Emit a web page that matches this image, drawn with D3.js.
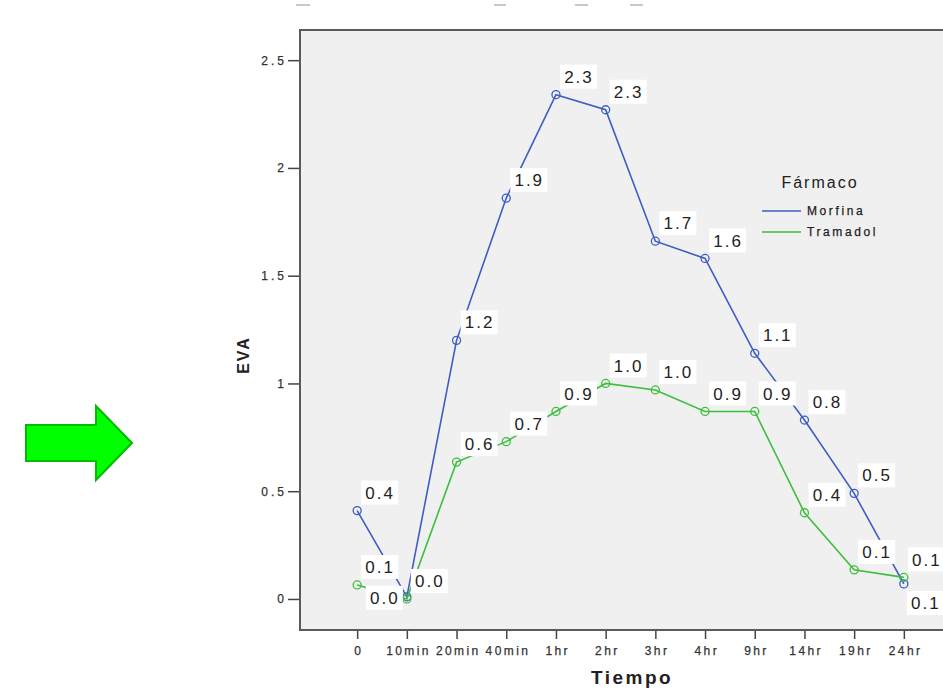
<!DOCTYPE html>
<html>
<head>
<meta charset="utf-8">
<script src="https://cdn.jsdelivr.net/npm/d3@7"></script>
<style>
  body { margin: 0; background: #fff; }
  svg { display: block; font-family: "Liberation Sans", Arial, sans-serif; }
</style>
</head>
<body>
<div id="chart"></div>
<script>
// tiempos (eje x)
const tiempos = ['0', '10min', '20min', '40min', '1hr', '2hr', '3hr', '4hr', '9hr', '14hr', '19hr', '24hr'];
// EVA medio por fármaco
const morfina  = [0.41, 0.01, 1.20, 1.86, 2.34, 2.27, 1.66, 1.58, 1.14, 0.83, 0.49, 0.07];
const tramadol = [0.065, 0.0, 0.635, 0.73, 0.87, 1.0, 0.97, 0.87, 0.87, 0.40, 0.135, 0.10];
const yTicks = [0, 0.5, 1, 1.5, 2, 2.5];
const farmacos = ['Morfina', 'Tramadol'];

let dim = { width: 943, height: 697 };
let plot = { left: 300, top: 30, right: 961, bottom: 630 };

let svg = d3.select('#chart').append('svg')
    .attr('width', dim.width)
    .attr('height', dim.height);

// flecha verde a la izquierda
svg.append('path')
    .attr('d', 'M26,425 L96,425 L96,406 L132,443 L96,480 L96,461 L26,461 Z')
    .attr('fill', '#00ff00')
    .attr('stroke', '#00bb00')
    .attr('stroke-width', 2);

// restos del titulo cortado
[[296, 310], [494, 506], [575, 588], [630, 643]].forEach(s => {
    svg.append('line')
        .attr('x1', s[0]).attr('x2', s[1])
        .attr('y1', 5).attr('y2', 5)
        .attr('stroke', '#c4c8d0').attr('stroke-width', 2);
});

let x = d3.scalePoint().domain(tiempos).range([plot.left, plot.right]).padding(1.15);
let y = d3.scaleLinear().domain([-0.144, 2.64]).range([plot.bottom, plot.top]);

svg.append('rect')
    .attr('x', plot.left).attr('y', plot.top)
    .attr('width', plot.right - plot.left).attr('height', plot.bottom - plot.top)
    .attr('fill', '#f0f0f0')
    .attr('stroke', '#5a5a5a')
    .attr('stroke-width', 2);

// eje y
let yAxis = svg.append('g')
    .attr('transform', `translate(${plot.left - 1},0)`)
    .call(d3.axisLeft(y).tickValues(yTicks).tickFormat(d => String(d)).tickSize(11).tickPadding(1));
yAxis.select('.domain').remove();
yAxis.selectAll('line').attr('stroke', '#444').attr('stroke-width', 1.5);
yAxis.selectAll('text').attr('font-size', 12).attr('fill', '#333')
    .attr('font-family', '"Liberation Sans", Arial, sans-serif')
    .attr('stroke', '#333').attr('stroke-width', 0.25)
    .style('letter-spacing', '3px');

// eje x
let xAxis = svg.append('g')
    .attr('transform', `translate(0,${plot.bottom + 1})`)
    .call(d3.axisBottom(x).tickSize(8).tickPadding(7));
xAxis.select('.domain').remove();
xAxis.selectAll('line').attr('stroke', '#444').attr('stroke-width', 1.5);
xAxis.selectAll('text').attr('font-size', 12).attr('fill', '#333')
    .attr('font-family', '"Liberation Sans", Arial, sans-serif')
    .attr('stroke', '#333').attr('stroke-width', 0.25)
    .attr('dx', '1.2px')
    .style('letter-spacing', '2.4px');

svg.append('text')
    .attr('transform', 'translate(249,355) rotate(-90)')
    .attr('text-anchor', 'middle')
    .attr('font-size', 16).attr('font-weight', 'bold').attr('fill', '#222')
    .style('letter-spacing', '2px')
    .text('EVA');

svg.append('text')
    .attr('x', 632).attr('y', 684)
    .attr('text-anchor', 'middle')
    .attr('font-size', 19).attr('font-weight', 'bold').attr('fill', '#222')
    .style('letter-spacing', '2.5px')
    .text('Tiempo');

let series = [
    { name: 'Morfina', values: morfina, color: '#3d5cc4' },
    { name: 'Tramadol', values: tramadol, color: '#3dbe3d' }
];

let line = d3.line()
    .x((d, i) => x(tiempos[i]))
    .y(d => y(d));

let g = svg.append('g');

series.forEach(s => {
    g.append('path')
        .datum(s.values)
        .attr('d', line)
        .attr('fill', 'none')
        .attr('stroke', s.color)
        .attr('stroke-width', 1.6);

    g.selectAll(null)
        .data(s.values)
        .join('circle')
        .attr('cx', (d, i) => x(tiempos[i]))
        .attr('cy', d => y(d))
        .attr('r', 4)
        .attr('fill', 'none')
        .attr('stroke', s.color)
        .attr('stroke-width', 1.3);
});

// etiquetas de valor (cajas blancas), algunas desplazadas para no solaparse
function labelOffset(name, i) {
    if (name === 'Morfina' && i === 1) return [-23, 1];
    if (name === 'Morfina' && i === 11) return [21, 19];
    return [22, -18];
}

let labels = svg.append('g');
series.forEach(s => {
    s.values.forEach((v, i) => {
        let off = labelOffset(s.name, i);
        let cx = x(tiempos[i]) + off[0];
        let cy = y(v) + off[1];
        let lg = labels.append('g').attr('transform', `translate(${cx},${cy})`);
        lg.append('rect')
            .attr('x', -18).attr('y', -12)
            .attr('width', 37).attr('height', 24)
            .attr('fill', '#fff');
        lg.append('text')
            .attr('text-anchor', 'middle')
            .attr('dy', '0.36em')
            .attr('dx', 1)
            .attr('font-size', 17)
            .attr('fill', '#222')
            .style('letter-spacing', '2px')
            .text(v.toFixed(1));
    });
});

// leyenda
let legend = svg.append('g');
legend.append('text')
    .attr('x', 820).attr('y', 188)
    .attr('text-anchor', 'middle')
    .attr('font-size', 16).attr('fill', '#222')
    .style('letter-spacing', '2px')
    .text('Fármaco');

series.forEach((s, i) => {
    let ly = 211 + i * 21;
    legend.append('line')
        .attr('x1', 762).attr('x2', 801)
        .attr('y1', ly).attr('y2', ly)
        .attr('stroke', s.color).attr('stroke-width', 1.6);
    legend.append('text')
        .attr('x', 807).attr('y', ly)
        .attr('dy', '0.35em')
        .attr('font-size', 12).attr('fill', '#222')
        .attr('stroke', '#222').attr('stroke-width', 0.25)
        .style('letter-spacing', '2.6px')
        .text(farmacos[i]);
});
</script>
</body>
</html>
